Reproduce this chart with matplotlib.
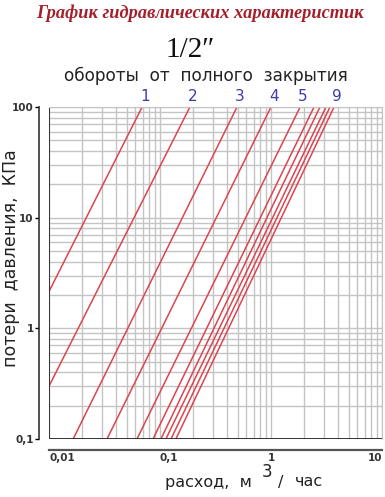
import numpy as np
import matplotlib.pyplot as plt
from matplotlib.ticker import LogLocator, NullFormatter

# curves: two points per curve (flow m3/h, loss kPa)
q_start = [0.01, 0.01, 0.0165, 0.0333, 0.062, 0.0865, 0.102, 0.113, 0.1256, 0.139]
p_start = [2.15, 0.30, 0.1, 0.1, 0.1, 0.1, 0.1, 0.1, 0.1, 0.1]
q_end = [0.069, 0.186, 0.494, 1.0, 1.83, 2.44, 2.76, 3.13, 3.40, 3.70]
p_end = [100, 100, 100, 100, 100, 100, 100, 100, 100, 100]

# turn labels and the curve each sits on
turn_labels = ['1', '2', '3', '4', '5', '9']
turn_curve = [0, 1, 2, 3, 4, 9]

x_ticks = [0.01, 0.1, 1, 10]
x_labels = ['0,01', '0,1', '1', '10']
y_ticks = [0.1, 1, 10, 100]
y_labels = ['0,1', '1', '10', '100']

W, H = 385, 497
fig = plt.figure(figsize=(W / 100, H / 100), dpi=100)
ax = fig.add_axes([49 / W, (H - 439) / H, 333 / W, 332 / H])
ax.set_xscale('log')
ax.set_yscale('log')
ax.set_xlim(0.01, 10)
ax.set_ylim(0.1, 100)

grid_c = '#c4c4c4'
ax.xaxis.set_minor_locator(LogLocator(base=10, subs=np.arange(2, 10)))
ax.yaxis.set_minor_locator(LogLocator(base=10, subs=np.arange(2, 10)))
ax.xaxis.set_minor_formatter(NullFormatter())
ax.yaxis.set_minor_formatter(NullFormatter())
ax.grid(True, which='both', color=grid_c, lw=1.0)
ax.set_axisbelow(True)

for a, b, c, d in zip(q_start, p_start, q_end, p_end):
    ax.plot([a, c], [b, d], color='#dc4450', lw=1.1, solid_capstyle='butt')

# inner dark frame lines at the axis minimums
ax.axvline(0.01, color='#333333', lw=1.4)
ax.axhline(0.1, color='#333333', lw=1.4)

# outer offset spines
ax.spines['left'].set_position(('outward', 7))
ax.spines['bottom'].set_position(('outward', 8))
ax.spines['left'].set_color('#333333')
ax.spines['bottom'].set_color('#555555')
ax.spines['left'].set_linewidth(1.2)
ax.spines['bottom'].set_linewidth(1.6)
ax.spines['top'].set_color(grid_c)
ax.spines['right'].set_color(grid_c)

ax.set_xticks(x_ticks)
ax.set_xticklabels(x_labels)
ax.set_yticks(y_ticks)
ax.set_yticklabels(y_labels)
ax.tick_params(which='minor', length=0)
ax.tick_params(axis='x', which='major', length=0, pad=2, labelsize=7.5, labelcolor='#333333')
ax.tick_params(axis='y', which='major', length=3, width=1, pad=1, labelsize=7.5,
               labelcolor='#333333', direction='out')
for lab, ha in zip(ax.get_xticklabels(), ['left', 'left', 'center', 'right']):
    lab.set_ha(ha)
    lab.set_fontweight('bold')
for lab in ax.get_yticklabels():
    lab.set_fontweight('bold')

for t, i in zip(turn_labels, turn_curve):
    ax.annotate(t, (q_end[i], 100), xytext=(2, 2), textcoords='offset points',
                ha='center', va='bottom', color='#3c3caa', fontsize=11)

fig.text(200 / W, 1 - 13 / H, 'График гидравлических характеристик', ha='center', va='center',
         family='Liberation Serif', style='italic', weight='bold', fontsize=13.2, color='#a3202a')
fig.text(190 / W, 1 - 50 / H, '1/2″', ha='center', va='center',
         family='Liberation Serif', fontsize=21, color='#111111')
fig.text(206 / W, 1 - 76 / H, 'обороты  от  полного  закрытия', ha='center', va='center',
         fontsize=12.2, color='#222222')

fig.text(11 / W, 1 - 258 / H, 'потери  давления,  КПа', rotation=90, ha='center', va='center',
         fontsize=12.5, color='#222222')
fig.text(165 / W, 1 - 482 / H, 'расход,  м', ha='left', va='center', fontsize=11.5, color='#222222')
fig.text(267 / W, 1 - 472 / H, '3', ha='center', va='center', fontsize=12, color='#222222')
fig.text(281 / W, 1 - 482 / H, '/', ha='center', va='center', fontsize=11.5, color='#222222')
fig.text(295 / W, 1 - 482 / H, 'час', ha='left', va='center', fontsize=11.5, color='#222222')

fig.savefig('out.png', dpi=100)
